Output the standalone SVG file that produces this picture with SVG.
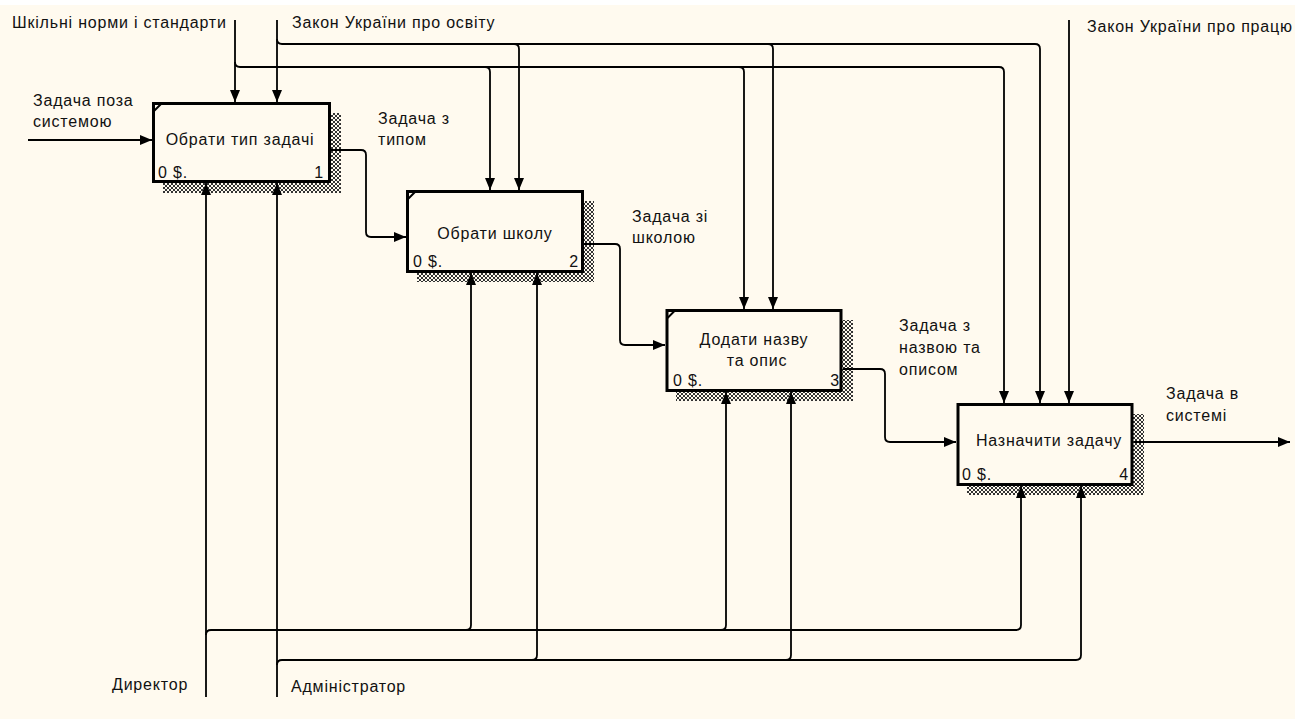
<svg xmlns="http://www.w3.org/2000/svg" width="1295" height="719" viewBox="0 0 1295 719">
<style>
text{font-family:"Liberation Sans",Arial,sans-serif;font-size:16px;fill:#111;letter-spacing:0.8px}
.box{fill:#FFFAEF;stroke:#000;stroke-width:3}
.notch{stroke:#000;stroke-width:2;fill:none}
.shadow{fill:url(#hatch)}
.c{text-anchor:middle}
.e{text-anchor:end}
.ln{fill:none;stroke:#000;stroke-width:1.8}
.ar{marker-end:url(#ah)}
</style>
<defs>
<pattern id="hatch" width="4" height="4" patternUnits="userSpaceOnUse">
<rect width="4" height="4" fill="#FFFAEF"/>
<path d="M0,0 L4,4 M4,0 L0,4" stroke="#333" stroke-width="1"/>
</pattern>
<marker id="ah" markerUnits="userSpaceOnUse" markerWidth="12" markerHeight="11" refX="12" refY="5.5" orient="auto">
<path d="M0,0.5 L12,5.5 L0,10.5 z" fill="#000"/>
</marker>
</defs>
<rect width="1295" height="719" fill="#FFFFFF"/>
<rect y="5" width="1295" height="714" fill="#FFFAEF"/>

<g id="labels">
<text x="12" y="28">Шкільні норми і стандарти</text>
<text x="292" y="28">Закон України про освіту</text>
<text x="1087" y="32">Закон України про працю</text>
<text x="33" y="106">Задача поза</text>
<text x="33" y="127">системою</text>
<text x="378" y="124">Задача з</text>
<text x="378" y="145">типом</text>
<text x="632" y="222">Задача зі</text>
<text x="632" y="243">школою</text>
<text x="899" y="331">Задача з</text>
<text x="899" y="353">назвою та</text>
<text x="899" y="375">описом</text>
<text x="1166" y="399">Задача в</text>
<text x="1166" y="421">системі</text>
<text x="112" y="690">Директор</text>
<text x="291" y="692">Адміністратор</text>
</g>

<g id="node1">
<rect class="shadow" x="163" y="113" width="178" height="80"/>
<rect class="box" x="153.5" y="103.5" width="176" height="78"/>
<path class="notch" d="M154,111 L161,104"/>
<text class="c" x="240" y="145">Обрати тип задачі</text>
<text x="158" y="178">0 $.</text>
<text class="e" x="324" y="178">1</text>
</g>

<g id="node2">
<rect class="shadow" x="417" y="201" width="177" height="81"/>
<rect class="box" x="407.5" y="191.5" width="175" height="80"/>
<path class="notch" d="M408,199 L415,192"/>
<text class="c" x="495" y="239">Обрати школу</text>
<text x="413" y="267">0 $.</text>
<text class="e" x="579" y="267">2</text>
</g>

<g id="node3">
<rect class="shadow" x="676" y="320" width="177" height="81"/>
<rect class="box" x="667" y="310.5" width="174" height="80"/>
<path class="notch" d="M667.5,318 L674.5,311"/>
<text class="c" x="754" y="345">Додати назву</text>
<text class="c" x="757" y="366">та опис</text>
<text x="673" y="386">0 $.</text>
<text class="e" x="840" y="386">3</text>
</g>

<g id="node4">
<rect class="shadow" x="967" y="414" width="177" height="81"/>
<rect class="box" x="958" y="404.5" width="174" height="80"/>
<text class="c" x="1049" y="446">Назначити задачу</text>
<text x="962" y="480">0 $.</text>
<text class="e" x="1129" y="480">4</text>
</g>

<g id="connectors">
<!-- input -->
<path class="ln ar" d="M28,140 H152"/>
<!-- outputs -->
<path class="ln ar" d="M331,150 H361 Q366,150 366,155 V232 Q366,237 371,237 H406"/>
<path class="ln ar" d="M584,244 H615 Q620,244 620,249 V340 Q620,345 625,345 H665"/>
<path class="ln ar" d="M843,369 H880 Q885,369 885,374 V437 Q885,442 890,442 H956"/>
<path class="ln ar" d="M1134,442 H1290"/>
<!-- controls: Шкільні норми -->
<path class="ln ar" d="M235,20 V102"/>
<path class="ln ar" d="M235,62 Q235,67 240,67 H999 Q1004,67 1004,72 V403"/>
<path class="ln ar" d="M485,67 Q490,67 490,72 V190"/>
<path class="ln ar" d="M739,67 Q744,67 744,72 V309"/>
<!-- controls: Закон про освіту -->
<path class="ln ar" d="M277,20 V102"/>
<path class="ln ar" d="M277,39 Q277,44 282,44 H1035 Q1040,44 1040,49 V403"/>
<path class="ln ar" d="M514,44 Q519,44 519,49 V190"/>
<path class="ln ar" d="M768,44 Q773,44 773,49 V309"/>
<!-- control: Закон про працю -->
<path class="ln ar" d="M1069,20 V403"/>
<!-- mechanism: Директор -->
<path class="ln ar" d="M206,697 V183"/>
<path class="ln ar" d="M206,635 Q206,630 211,630 H1016 Q1021,630 1021,625 V486"/>
<path class="ln ar" d="M466,630 Q471,630 471,625 V273"/>
<path class="ln ar" d="M721,630 Q726,630 726,625 V392"/>
<!-- mechanism: Адміністратор -->
<path class="ln ar" d="M277,697 V183"/>
<path class="ln ar" d="M277,665 Q277,660 282,660 H1076 Q1081,660 1081,655 V486"/>
<path class="ln ar" d="M532,660 Q537,660 537,655 V273"/>
<path class="ln ar" d="M786,660 Q791,660 791,655 V392"/>
</g>
</svg>
